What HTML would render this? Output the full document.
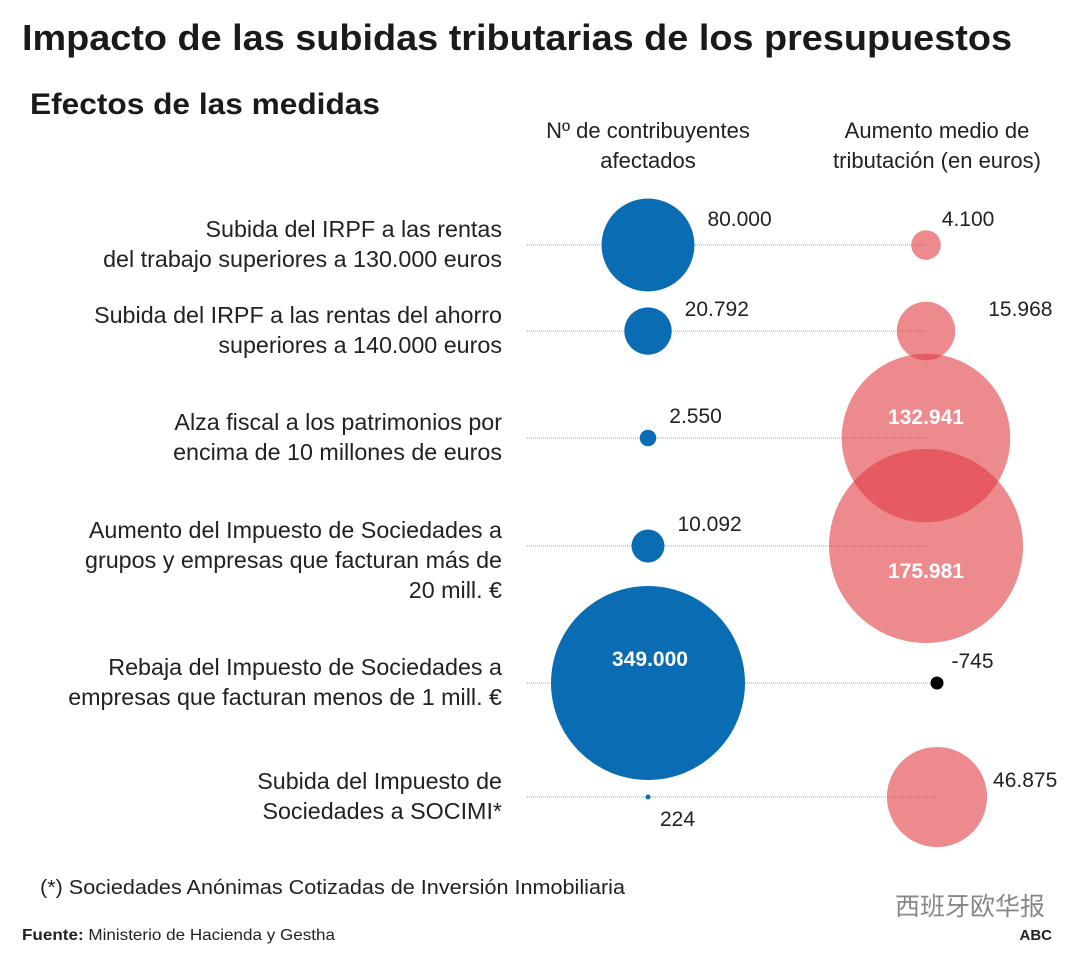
<!DOCTYPE html>
<html><head><meta charset="utf-8"><style>
body{margin:0;background:#fff;width:1080px;height:953px;overflow:hidden;font-family:"Liberation Sans","Noto Sans CJK SC",sans-serif;color:#1a1a1a}
svg{display:block}
</style></head><body>
<svg width="1080" height="953" viewBox="0 0 1080 953">
<text x="22" y="50" font-size="36" font-weight="bold" fill="#1a1a1a" textLength="990" lengthAdjust="spacingAndGlyphs">Impacto de las subidas tributarias de los presupuestos</text>
<text x="30" y="114" font-size="30" font-weight="bold" fill="#1a1a1a" textLength="350" lengthAdjust="spacingAndGlyphs">Efectos de las medidas</text>
<text x="648" y="138" font-size="22" text-anchor="middle" fill="#222"><tspan x="648">Nº de contribuyentes</tspan><tspan x="648" dy="30">afectados</tspan></text>
<text x="937" y="138" font-size="22" text-anchor="middle" fill="#222"><tspan x="937">Aumento medio de</tspan><tspan x="937" dy="30">tributación (en euros)</tspan></text>
<g id="rows"></g>
<text x="40" y="894" font-size="20" fill="#222" textLength="585" lengthAdjust="spacingAndGlyphs">(*) Sociedades Anónimas Cotizadas de Inversión Inmobiliaria</text>
<text x="22" y="940" font-size="16" fill="#222" textLength="313" lengthAdjust="spacingAndGlyphs"><tspan font-weight="bold">Fuente:</tspan> Ministerio de Hacienda y Gestha</text>
<text x="1052" y="940" font-size="15" font-weight="bold" text-anchor="end" fill="#222">ABC</text>
<text x="1045" y="915" font-size="25" text-anchor="end" fill="#888">西班牙欧华报</text>
</svg>
<script>
const labels=[["Subida del IRPF a las rentas","del trabajo superiores a 130.000 euros"],["Subida del IRPF a las rentas del ahorro","superiores a 140.000 euros"],["Alza fiscal a los patrimonios por","encima de 10 millones de euros"],["Aumento del Impuesto de Sociedades a","grupos y empresas que facturan más de","20 mill. €"],["Rebaja del Impuesto de Sociedades a","empresas que facturan menos de 1 mill. €"],["Subida del Impuesto de","Sociedades a SOCIMI*"]];
const contributors=[80000,20792,2550,10092,349000,224];
const avgIncrease=[4100,15968,132941,175981,-745,46875];
const contribText=["80.000","20.792","2.550","10.092","349.000","224"];
const increaseText=["4.100","15.968","132.941","175.981","-745","46.875"];
const rowY=[245,331,438,546,683,797];
const redX=[926,926,926,926,937,937];
const NS="http://www.w3.org/2000/svg";
const g=document.getElementById('rows');
const rB=v=>97*Math.sqrt(Math.abs(v)/Math.max(...contributors));
const rR=v=>97*Math.sqrt(Math.abs(v)/Math.max(...avgIncrease));
function mk(t,a){const e=document.createElementNS(NS,t);for(const k in a)e.setAttribute(k,a[k]);return e;}
const lines=mk('g',{}),reds=mk('g',{}),blues=mk('g',{}),texts=mk('g',{});
g.append(lines,reds,blues,texts);
const redLabelDx=[1,33,0,0,8,6];
const redLabelDy=[-19,-15,-14,32,-15,-10];
labels.forEach((ls,i)=>{
 const y=rowY[i];
 const ln=mk('line',{x1:527,x2:redX[i],y1:y,y2:y,stroke:'#8aa4b8','stroke-width':1,'stroke-dasharray':'1 1'});
 
 
 lines.append(ln);
 const lt=mk('text',{x:502,'font-size':23.3,'text-anchor':'end',fill:'#222'});
 
 
 const y0=ls.length==3?y-8:y-(ls.length-1)*15+7;
 ls.forEach((s,j)=>{const ts=mk('tspan',{x:502,y:y0+j*30});ts.textContent=s;lt.append(ts);});
 texts.append(lt);
 const rb=rB(contributors[i]);
 const cb=mk('circle',{cx:648,cy:y,r:Math.max(rb,2.5),fill:'#0a6db4'});
 
 
 blues.append(cb);
 const bt=mk('text',{'font-size':21,fill:i==4?'#fff':'#222','font-weight':i==4?'bold':'normal'});
 
 
 if(i==4){bt.setAttribute('x',650);bt.setAttribute('y',y-17);bt.setAttribute('text-anchor','middle');}
 else if(i==5){bt.setAttribute('x',660);bt.setAttribute('y',y+29);}
 else{bt.setAttribute('x',648+rb+13);bt.setAttribute('y',y-(i==0?19:15));}
 bt.textContent=contribText[i];texts.append(bt);
 const v=avgIncrease[i];
 const rr=v<0?6.5:rR(v);
 const cr=mk('circle',{cx:redX[i],cy:y,r:rr,fill:v<0?'#000':'rgb(225,60,66)','fill-opacity':v<0?1:0.6});
 
 
 reds.append(cr);
 const rt=mk('text',{'font-size':21,fill:'#222'});
 
 
 if(i==2||i==3){rt.setAttribute('x',926);rt.setAttribute('y',y+redLabelDy[i]);rt.setAttribute('text-anchor','middle');rt.setAttribute('fill','#fff');rt.setAttribute('font-weight','bold');}
 else{rt.setAttribute('x',redX[i]+rr+redLabelDx[i]);rt.setAttribute('y',y+redLabelDy[i]);}
 rt.textContent=increaseText[i];texts.append(rt);
});
</script>
</body></html>
